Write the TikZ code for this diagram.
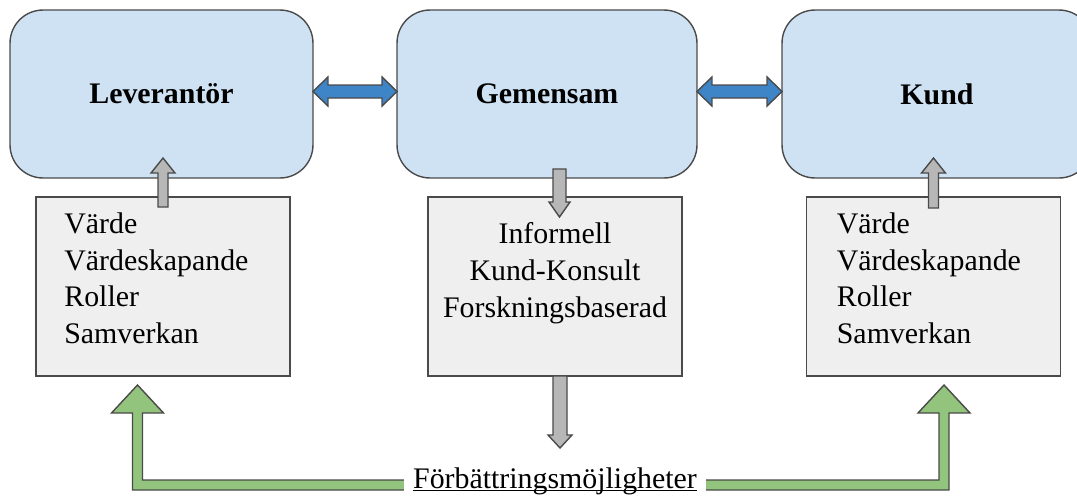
\documentclass[tikz,border=0pt]{standalone}
\usepackage{fontspec}
\setmainfont{Liberation Serif}
\definecolor{BoxBlue}{HTML}{CFE2F3}
\definecolor{BoxGrey}{HTML}{EFEFEF}
\definecolor{ArrowBlue}{HTML}{3D85C6}
\definecolor{ArrowGrey}{HTML}{B7B7B7}
\definecolor{ArrowGreen}{HTML}{93C47D}
\definecolor{EdgeGrey}{HTML}{4A4A4A}

\begin{document}
\begin{tikzpicture}[x=0.02cm,y=-0.02cm,line join=miter,
  bigbox/.style={draw=EdgeGrey,line width=0.8pt,fill=BoxBlue,rounded corners=0.66cm,minimum height=3.36cm,inner sep=0,outer sep=0,font=\fontsize{17}{21}\selectfont\bfseries},
  listbox/.style={draw=EdgeGrey,line width=0.8pt,fill=BoxGrey,minimum width=5.08cm,minimum height=3.58cm,inner sep=0,outer sep=0},
  listtext/.style={inner sep=0,font=\fontsize{17}{21}\selectfont},
  bluearrow/.style={draw=EdgeGrey,line width=0.8pt,fill=ArrowBlue},
  greyarrow/.style={draw=EdgeGrey,line width=0.8pt,fill=ArrowGrey},
  greenarrow/.style={draw=EdgeGrey,line width=0.8pt,fill=ArrowGreen}]
  \useasboundingbox (0,0) rectangle (1077,498);
  \clip (0,0) rectangle (1077,498);
  % top row
  \node[bigbox,minimum width=6.06cm] (lev) at (161.5,94) {Leverantör};
  \node[bigbox,minimum width=6cm] (gem) at (547,94) {Gemensam};
  \node[bigbox,minimum width=6.2cm] (kund) at (937,94) {Kund};
  % lists
  \node[listbox] (levbox) at (163,286.5) {};
  \node[listbox] (gembox) at (555,286.5) {};
  \node[listbox] (kundbox) at (933.5,286.5) {};
  \node[listtext,anchor=north west,align=left] (levlist) at ([shift={(28,15)}]levbox.north west) {Värde\\Värdeskapande\\Roller\\Samverkan};
  \node[listtext,anchor=north,align=center] (gemlist) at ([shift={(0,25)}]gembox.north) {Informell\\Kund-Konsult\\Forskningsbaserad};
  \node[listtext,anchor=north west,align=left] (kundlist) at ([shift={(30,15)}]kundbox.north west) {Värde\\Värdeskapande\\Roller\\Samverkan};
  % double arrows
  \draw[bluearrow] ([shift={(0,-2.5)}]lev.east) -- ++(15,-14.5) -- ++(0,8) -- ([shift={(-15,-9)}]gem.west) -- ++(0,-8) -- ([shift={(0,-2.5)}]gem.west) -- ++(-15,14.5) -- ++(0,-8) -- ([shift={(15,4)}]lev.east) -- ++(0,8) -- cycle;
  \draw[bluearrow] ([shift={(0,-2.5)}]gem.east) -- ++(15,-14.5) -- ++(0,8) -- ([shift={(-15,-9)}]kund.west) -- ++(0,-8) -- ([shift={(0,-2.5)}]kund.west) -- ++(-15,14.5) -- ++(0,-8) -- ([shift={(15,4)}]gem.east) -- ++(0,8) -- cycle;
  % small arrows
  \draw[greyarrow] ([shift={(-5,10)}]levbox.north) -- ++(0,-34) -- ++(-7,0) -- ++(12,-15) -- ++(12,15) -- ++(-7,0) -- ++(0,34) -- cycle;
  \draw[greyarrow] ([shift={(-5,11)}]kundbox.north) -- ++(0,-35) -- ++(-7,0) -- ++(12,-15) -- ++(12,15) -- ++(-7,0) -- ++(0,35) -- cycle;
  \draw[greyarrow] ([shift={(-2,-28)}]gembox.north) -- ++(0,33) -- ++(-4,0) -- ++(10.5,15) -- ++(10.5,-15) -- ++(-4,0) -- ++(0,-33) -- cycle;
  \draw[greyarrow] ([shift={(-2,0)}]gembox.south) -- ++(0,59) -- ++(-5,0) -- ++(12,13) -- ++(12,-13) -- ++(-5,0) -- ++(0,-59) -- cycle;
  % green arrow
  \coordinate (gl) at (137.5,385);\coordinate (gr) at (944,385);
  \draw[greenarrow] (gl) -- ++(26,28) -- ++(-21,0) -- ++(0,67) -- ++(796.5,0) -- ++(0,-67) -- ++(-21,0) -- (gr) -- ++(26,28) -- ++(-21,0) -- ++(0,77) -- ++(-816.5,0) -- ++(0,-77) -- ++(-21,0) -- cycle;
  \node[fill=white,inner xsep=0.18cm,inner ysep=0.08cm,anchor=base,font=\fontsize{17}{21}\selectfont] (forb) at (555,488) {\underline{\raisebox{0pt}[\height][0pt]{Förbättringsmöjligheter}}};
\end{tikzpicture}
\end{document}
